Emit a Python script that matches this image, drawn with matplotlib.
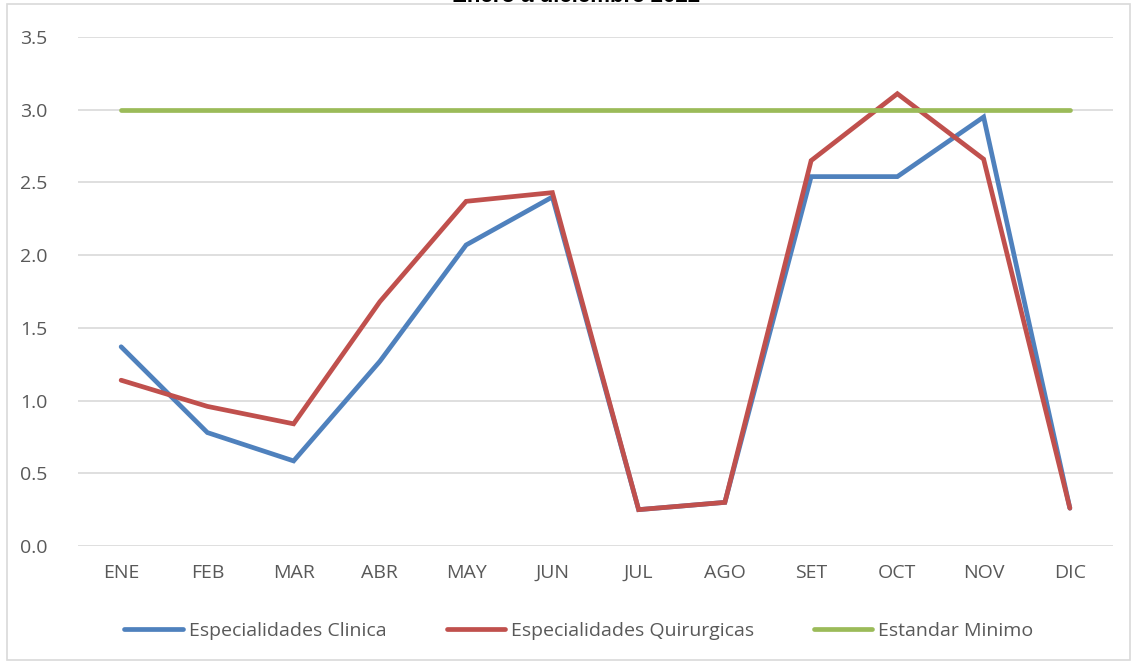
import matplotlib.pyplot as plt
from matplotlib.patches import Rectangle

meses = ['ENE', 'FEB', 'MAR', 'ABR', 'MAY', 'JUN', 'JUL', 'AGO', 'SET', 'OCT', 'NOV', 'DIC']
clinica = [1.37, 0.78, 0.585, 1.27, 2.07, 2.40, 0.25, 0.30, 2.54, 2.54, 2.95, 0.26]
quirurgica = [1.14, 0.96, 0.84, 1.68, 2.37, 2.43, 0.25, 0.30, 2.65, 3.11, 2.66, 0.26]
estandar = [3.0] * 12
titulo = 'Enero a diciembre 2022'

plt.rcParams['font.family'] = ['Open Sans', 'DejaVu Sans']

fig = plt.figure(figsize=(11.38, 6.66), dpi=100)
ax = fig.add_axes([78/1138, 120/666, 1035/1138, 509/666])

# marco del grafico
fig.patches.append(Rectangle((7/1138, 6/666), 1123/1138, 656/666, transform=fig.transFigure,
                             fill=False, edgecolor='#d9d9d9', linewidth=1.2))

x = range(len(meses))
ax.plot(x, clinica, color='#4F81BD', lw=3.4, solid_capstyle='round', solid_joinstyle='miter',
        label='Especialidades Clinica')
ax.plot(x, quirurgica, color='#C0504D', lw=3.4, solid_capstyle='round', solid_joinstyle='miter',
        label='Especialidades Quirurgicas')
ax.plot(x, estandar, color='#9BBB59', lw=3.4, solid_capstyle='round',
        label='Estandar Minimo')

ax.set_xlim(-0.5, 11.5)
ax.set_ylim(0, 3.5)
ax.set_xticks(list(x))
ax.set_xticklabels(meses)
ax.set_yticks([0, 0.5, 1.0, 1.5, 2.0, 2.5, 3.0, 3.5])
ax.set_yticklabels(['{:.1f}'.format(v) for v in ax.get_yticks()])
ax.tick_params(length=0, labelsize=14, labelcolor='#595959')
ax.tick_params(axis='x', pad=13)
ax.tick_params(axis='y', pad=22)
ax.grid(axis='y', color='#d9d9d9', lw=1.2)
ax.set_axisbelow(True)
for s in ax.spines.values():
    s.set_visible(False)

# titulo cortado en el borde superior, como en la imagen original
fig.text(576/1138, 1 - 2/666, titulo, ha='center', va='baseline', fontsize=16, fontweight='bold',
         family=['Liberation Sans', 'DejaVu Sans'])

fig.legend(loc='center', bbox_to_anchor=(0.5 + 10/1138, 1 - 631/666), ncol=3, frameon=False,
           fontsize=14, labelcolor='#595959', handlelength=3.0, columnspacing=3.1, handletextpad=0.3)

fig.savefig('out.png', dpi=100)
